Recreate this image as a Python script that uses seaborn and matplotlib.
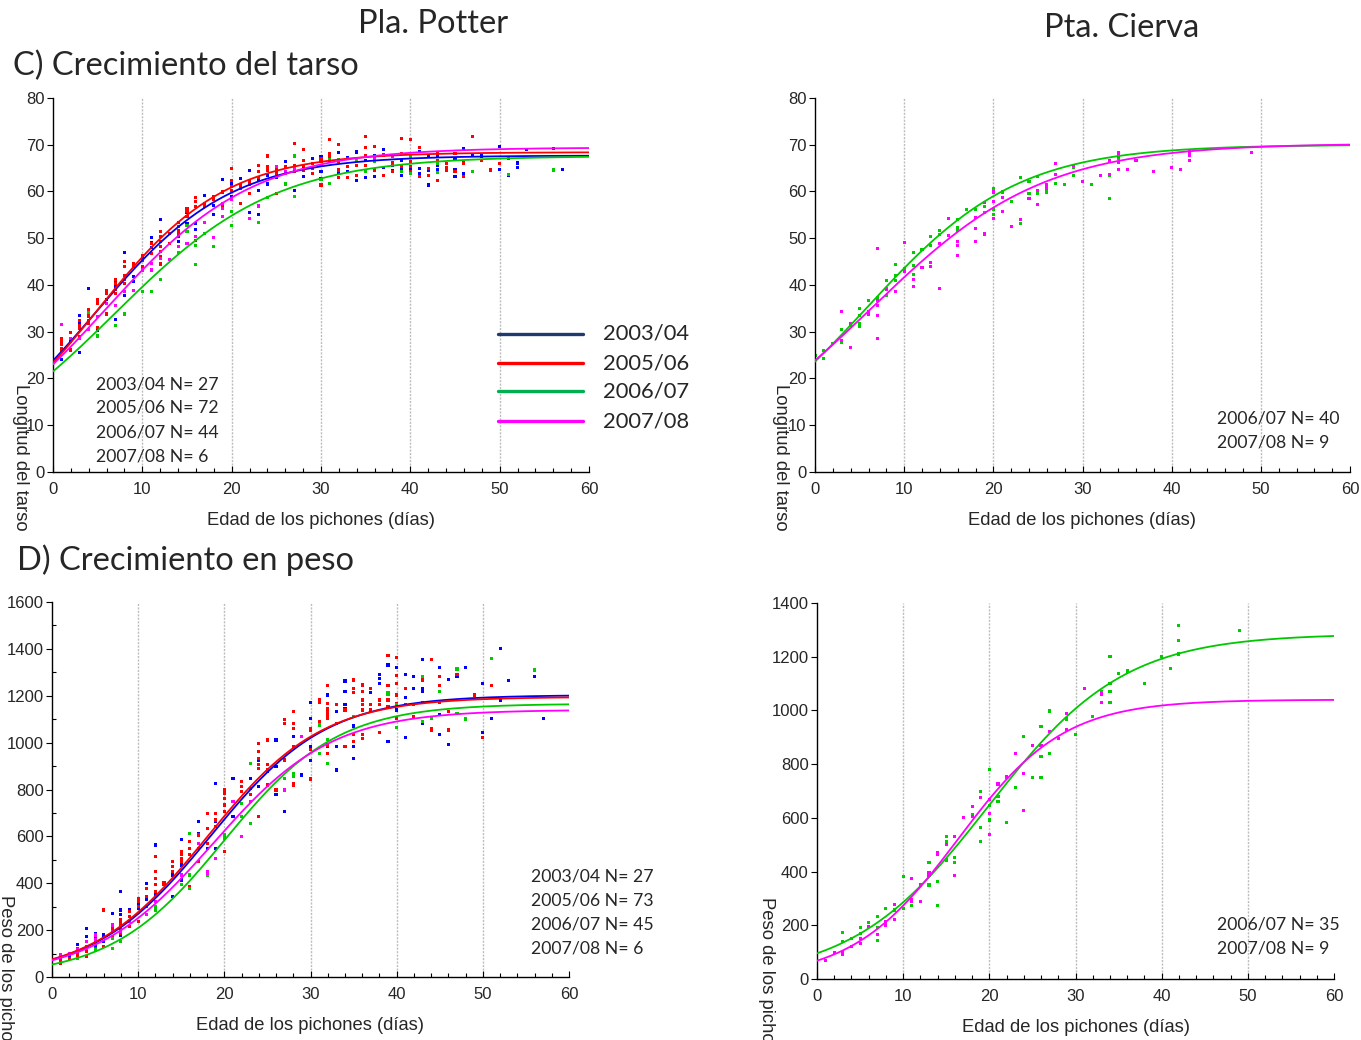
import numpy as np
import pandas as pd
import matplotlib
matplotlib.use("Agg")
import matplotlib.pyplot as plt
from matplotlib.lines import Line2D
from matplotlib.ticker import MultipleLocator
import seaborn as sns

sns.set_theme(style="white")
plt.rcParams['font.family'] = ['Liberation Sans', 'DejaVu Sans']

W, H = 1361, 1040
TEXT_FONT = ['Lato', 'DejaVu Sans']

SEASONS = ["2003/04", "2005/06", "2006/07", "2007/08"]
DOT_COLORS = {"2003/04": "#0000ff", "2005/06": "#ff0000",
              "2006/07": "#00cc00", "2007/08": "#ff00ff"}
LINE_COLORS = {"2003/04": "#0000ee", "2005/06": "#ff0000",
               "2006/07": "#00c800", "2007/08": "#ff00ff"}
LEGEND_COLORS = ["#1f3a6e", "#ff0000", "#00b050", "#ff00ff"]

# ---- Fitted logistic growth parameters (asymptote, rate, inflection day) ----
TARSO_POTTER_A = [67.7, 68.4, 67.6, 69.4]
TARSO_POTTER_K = [0.1316, 0.1379, 0.111, 0.1202]
TARSO_POTTER_TI = [4.65, 4.79, 6.87, 5.84]

TARSO_CIERVA_A = [70.0, 70.3]
TARSO_CIERVA_K = [0.1178, 0.104]
TARSO_CIERVA_TI = [5.74, 6.4]

PESO_POTTER_A = [1203, 1195, 1166, 1140]
PESO_POTTER_K = [0.148, 0.150, 0.152, 0.145]
PESO_POTTER_TI = [18.4, 18.0, 20.0, 18.7]

PESO_CIERVA_A = [1285, 1040]
PESO_CIERVA_K = [0.1269, 0.1627]
PESO_CIERVA_TI = [19.87, 16.35]

# ---- Sample sizes ----
N_TARSO_POTTER = [27, 72, 44, 6]
N_TARSO_CIERVA = [40, 9]
N_PESO_POTTER = [27, 73, 45, 6]
N_PESO_CIERVA = [35, 9]

# ---- Measurements: day -> values ----
TP_2003 = {1: [24.1], 2: [27.9], 3: [33.4, 31.8, 25.6], 4: [39.3], 5: [36.3, 30.2], 6: [36.9],
           7: [40.5, 39.6, 32.6], 8: [47.0, 37.8], 9: [41.8, 40.7], 10: [45.7, 43.9],
           11: [50.2, 49.0, 48.0], 12: [54.0], 13: [48.9], 14: [51.4, 50.3, 49.3], 15: [55.5, 53.2],
           16: [53.2, 51.9], 17: [59.2], 18: [57.1, 55.0], 19: [62.6], 20: [61.7, 58.9], 21: [62.8],
           22: [64.4, 55.5], 23: [62.3, 60.3, 55.0], 24: [63.5, 61.6], 25: [63.0], 26: [66.5],
           27: [60.3], 28: [64.9, 63.3], 29: [67.1], 30: [67.4, 64.2, 62.8], 31: [66.4],
           32: [68.4, 63.9], 33: [67.2, 64.2], 34: [68.6, 68.3, 62.3], 35: [66.6, 63.0],
           36: [67.6, 63.3], 37: [68.9, 65.1], 38: [65.6, 64.4], 39: [66.7, 64.8, 63.5], 40: [64.6],
           41: [68.6, 64.9, 63.9], 42: [67.6, 64.4, 61.4], 43: [67.4, 65.6, 64.6],
           45: [66.9, 64.7, 63.3], 46: [69.2, 63.9], 47: [67.8], 48: [67.6], 50: [69.6, 64.8],
           51: [63.5], 52: [66.1, 65.1], 53: [68.9], 56: [69.2], 57: [64.8]}
TP_2005 = {1: [28.6, 27.9, 27.2, 26.4, 25.7], 2: [29.8, 26.1], 3: [32.5, 31.4, 30.7, 28.9],
           4: [34.8, 33.9, 33.2, 32.5, 31.8], 5: [36.8, 36.1, 30.9], 6: [38.9, 38.1, 33.8],
           7: [41.2, 40.3, 39.1, 38.2], 8: [45.0, 43.9, 42.1, 41.1, 40.3], 9: [44.6, 43.9],
           10: [46.4, 45.3, 43.9], 11: [48.8, 46.8], 12: [51.4, 50.3, 49.3, 48.2, 47.1, 46.0, 44.5],
           13: [51.0, 48.9], 14: [53.3, 52.5, 51.7, 51.0], 15: [56.4, 55.7, 54.6],
           16: [58.7, 57.8, 56.7, 49.6], 17: [57.4, 56.7, 51.0], 18: [58.9, 58.2], 19: [59.9, 57.1],
           20: [64.9, 62.4, 61.0, 60.3], 21: [61.4, 60.7, 57.4], 22: [62.4, 61.6, 59.6],
           23: [65.6, 64.2, 63.0], 24: [67.6, 65.3, 64.6], 25: [64.6, 63.9, 59.6], 26: [65.3, 63.9],
           27: [70.3, 65.6, 64.2], 28: [68.9, 66.7, 65.6, 64.6], 29: [66.0, 64.9, 63.9],
           30: [67.1, 66.4, 65.6, 61.4], 31: [71.1, 68.1, 67.4], 32: [70.1, 66.4, 64.6, 63.0],
           33: [67.1, 65.4, 63.0], 34: [65.6, 63.5], 35: [71.7, 69.4, 67.6, 65.6, 64.2],
           36: [69.7, 67.4, 64.6], 37: [67.8, 63.4], 38: [66.1, 64.2], 39: [71.3, 68.1, 65.3],
           40: [71.1, 66.4, 65.3, 64.2], 41: [69.4, 63.2], 42: [64.9, 63.5], 43: [68.1, 66.7, 62.3],
           44: [65.9, 65.1, 64.4], 45: [68.1, 64.2], 46: [66.1, 63.3], 47: [71.7], 48: [66.7],
           49: [64.6], 50: [65.9], 51: [67.1]}
TP_2006 = {4: [34.1], 5: [29.1], 7: [31.4], 8: [33.8], 10: [38.6], 11: [38.6], 12: [41.2],
           14: [47.0], 15: [52.8, 51.4], 16: [48.5, 44.3], 17: [51.0], 18: [48.2], 20: [55.7, 52.8],
           23: [53.4], 24: [58.7], 26: [61.6], 27: [67.6, 59.0], 30: [62.6], 31: [66.9, 61.7],
           32: [66.9], 34: [66.7], 35: [64.2], 36: [66.4], 39: [64.2], 40: [67.4, 63.9],
           43: [66.0, 64.0], 47: [64.2], 51: [63.7], 56: [64.6]}
TP_2007 = {1: [31.6], 2: [28.6], 3: [28.6], 4: [30.4], 5: [33.2], 6: [36.1], 7: [35.7], 8: [38.6],
           9: [38.9], 10: [43.2], 11: [44.6, 43.2], 12: [45.7], 13: [45.5], 14: [48.2], 15: [48.9],
           16: [50.3], 17: [53.3], 18: [50.2], 19: [57.4, 56.4, 54.6], 20: [58.2], 22: [54.2],
           23: [56.9], 25: [65.3], 26: [64.2], 27: [64.9], 36: [67.1], 38: [67.4]}

TC_2006 = {0: [25.0], 1: [25.9, 24.3], 2: [27.5], 3: [30.4, 27.7], 4: [31.4],
           5: [34.9, 33.4, 31.8, 31.2], 6: [36.6], 7: [37.3], 8: [40.9, 39.3, 37.8],
           9: [44.3, 42.0, 40.9], 10: [43.5], 11: [47.0, 44.1, 42.3], 12: [47.5], 13: [50.3, 48.4],
           14: [51.7, 50.8], 15: [50.5], 16: [54.0, 52.3, 51.6], 17: [56.2], 18: [56.2],
           19: [56.7, 55.5], 20: [60.7, 56.2, 55.0], 21: [59.9], 22: [57.8], 23: [62.9, 53.2],
           24: [62.1, 59.6], 25: [63.2, 59.6], 26: [59.9], 27: [61.7], 28: [61.5], 29: [65.1, 63.5],
           31: [61.5], 33: [63.5, 58.5], 34: [67.1]}
TC_2007 = {3: [34.3, 28.2], 4: [31.8, 26.6], 6: [34.3, 33.7], 7: [47.8, 36.6, 35.7, 33.4, 28.5],
           8: [39.1], 9: [38.7], 10: [49.0, 42.8], 11: [41.2, 39.6], 12: [43.8], 13: [44.8, 43.9],
           14: [48.9, 39.3], 15: [54.2, 50.5], 16: [49.3, 48.5, 46.3], 18: [54.5, 52.1, 49.3],
           19: [57.6, 50.9], 20: [59.9, 57.8, 54.2], 21: [58.7, 55.7], 22: [52.6], 23: [54.0],
           24: [58.5], 25: [60.2, 57.3], 26: [61.4, 60.7], 27: [66.0, 63.7], 29: [65.6], 30: [62.1],
           32: [63.5], 33: [66.7, 63.7], 34: [68.3, 67.6, 66.2, 64.8], 35: [64.8], 36: [66.7],
           38: [64.2], 40: [65.1], 41: [64.8], 42: [68.6, 67.8, 66.7], 49: [68.4]}

PP_2003 = {1: [73], 2: [94], 3: [137], 4: [208, 172], 5: [186, 165, 129], 6: [179, 151],
           7: [272, 208], 8: [364, 286, 265, 179], 9: [286, 257], 10: [314, 293],
           11: [400, 378, 329], 12: [563, 449, 350], 13: [393], 14: [492, 435, 343],
           15: [585, 478, 414], 16: [521], 17: [663, 613], 18: [570, 549], 19: [826, 663, 549],
           20: [592], 21: [848, 684], 22: [684], 23: [848], 24: [961, 926, 812], 25: [1011, 876],
           26: [1011, 897, 777], 27: [705], 28: [1025], 29: [862], 30: [1172, 1104, 983, 922],
           32: [1203, 983], 33: [1132, 983, 883], 34: [1263, 1220, 1161, 1144],
           35: [1071, 983, 933], 37: [1215, 1139], 38: [1291, 1274, 1253], 39: [1331, 1153, 1004],
           40: [1320, 1139], 41: [1291, 1192, 1021], 42: [1281, 1232], 43: [1353, 1232, 1217, 1083],
           45: [1320, 1121, 1033], 46: [1270, 993], 47: [1281], 48: [1320], 50: [1253, 1044],
           51: [1104], 52: [1402, 1182], 53: [1264], 56: [1281], 57: [1104]}
PP_2005 = {1: [80, 65, 58], 2: [101, 80], 3: [122, 101, 87], 4: [151, 129, 108, 87], 5: [144, 122],
           6: [286, 129], 7: [222, 208, 193, 172], 8: [243, 229, 215, 201, 186], 9: [279, 257, 215],
           10: [336, 321, 300, 236], 11: [378, 343, 300], 12: [513, 449, 421, 393, 364],
           13: [404, 393], 14: [492, 471, 449], 15: [535, 521, 506, 492],
           16: [613, 577, 549, 521, 385], 17: [606, 549, 492], 18: [698, 634, 570],
           19: [698, 670, 642], 20: [798, 784, 762, 734, 705, 535], 22: [833, 812, 791],
           23: [805, 777], 24: [997, 961, 933, 905, 890, 684], 25: [1011, 905, 883, 819], 26: [798],
           27: [1097, 1083, 926], 28: [1132, 1083, 1061, 983, 826, 819],
           30: [1061, 1054, 969, 845], 31: [1182, 1172, 1092, 1083],
           32: [1243, 1168, 1144, 1132, 1118, 1104, 990, 954], 33: [1161, 1083], 34: [1139, 983],
           35: [1267, 1232, 1215, 1033, 1004], 36: [1246, 1217, 1182, 1161, 1139, 1033, 1018],
           37: [1232, 1161, 1139], 38: [1182, 1161, 1044], 39: [1370, 1243, 1182, 1153],
           40: [1364, 1286, 1253, 1203, 1168, 1104], 41: [1232, 1161], 42: [1161, 1111],
           43: [1267, 1170], 44: [1353, 1061, 1054], 45: [1281, 1243, 1172], 46: [1132, 1054],
           47: [1291], 48: [1104], 49: [1203], 50: [1021], 51: [1243]}
PP_2006 = {3: [80], 5: [115], 7: [165, 122], 8: [151], 12: [300, 286], 15: [393],
           16: [613, 435, 378], 18: [435], 20: [606, 592], 22: [741, 684], 23: [912, 656],
           27: [848], 28: [869, 855], 31: [1075, 954], 32: [1015, 912], 35: [1111],
           39: [1215, 1206], 40: [1161, 1065], 43: [1281, 1092], 44: [1104], 45: [1220],
           47: [1314, 1125], 48: [1101], 51: [1360], 56: [1310]}
PP_2007 = {1: [94], 2: [101], 3: [115], 4: [151, 122], 5: [179, 158], 7: [222, 193], 8: [193],
           9: [236], 11: [265], 12: [321], 15: [435], 17: [570], 18: [449, 442], 19: [506],
           21: [748], 22: [599], 23: [748], 27: [798], 29: [1025]}

PC_2006 = {3: [174, 141], 4: [151], 5: [191, 170], 6: [210], 7: [232, 191, 143], 8: [263],
           9: [257], 10: [381, 263], 11: [292, 273], 13: [433, 350], 14: [362, 273],
           15: [530, 511, 443], 16: [453, 433], 18: [611], 19: [698, 563, 511], 20: [781, 645, 592],
           21: [681, 660], 22: [750, 582], 23: [714], 24: [902], 25: [751], 26: [940, 828, 751],
           27: [998, 838], 29: [968], 30: [911], 32: [978], 33: [1070],
           34: [1200, 1101, 1070, 1031], 35: [1137], 36: [1147], 38: [1100], 40: [1200],
           41: [1157], 42: [1316, 1259, 1210], 49: [1297]}
PC_2007 = {1: [68], 2: [98], 3: [99, 93], 4: [120], 5: [151, 133], 6: [195], 7: [166],
           8: [213, 201], 9: [278, 223], 11: [375, 294, 288], 12: [350, 288], 13: [396, 385],
           14: [472, 465], 15: [501], 16: [530, 384], 17: [602], 18: [642, 604], 19: [675],
           20: [670, 617, 539], 21: [726], 22: [753], 23: [838], 24: [766, 626], 25: [868],
           26: [871], 27: [921], 28: [896], 29: [987, 930], 31: [1080], 33: [1061, 1031]}


def fx(px):
    return px / W


def fy(py):
    return 1 - py / H


def points_frame(tables, seasons):
    rows = []
    for season, table in zip(seasons, tables):
        for day, vals in table.items():
            for v in vals:
                rows.append((season, day, v))
    return pd.DataFrame(rows, columns=["season", "day", "value"])


def curve_frame(asym, rate, infl, seasons):
    days = np.linspace(0, 60, 301)
    parts = []
    for season, a, k, ti in zip(seasons, asym, rate, infl):
        parts.append(pd.DataFrame({"season": season, "day": days,
                                   "value": a / (1 + np.exp(-k * (days - ti)))}))
    return pd.concat(parts, ignore_index=True)


def style_axes(ax, ymax, ystep, yminor=None):
    ax.set_xlim(0, 60)
    ax.set_ylim(0, ymax)
    ax.xaxis.set_major_locator(MultipleLocator(10))
    ax.xaxis.set_minor_locator(MultipleLocator(2))
    ax.yaxis.set_major_locator(MultipleLocator(ystep))
    if yminor:
        ax.yaxis.set_minor_locator(MultipleLocator(yminor))
        ax.tick_params(axis="y", which="minor", direction="in", length=3, width=0.8,
                       color="black", left=True)
    ax.tick_params(axis="x", which="major", direction="in", length=4, width=0.8,
                   color="black", labelsize=12, pad=7, bottom=True)
    ax.tick_params(axis="x", which="minor", direction="in", length=3, width=0.8,
                   color="black", bottom=True)
    ax.tick_params(axis="y", which="major", direction="out", length=4, width=0.8,
                   color="black", labelsize=12, pad=2, left=True)
    for side in ("top", "right"):
        ax.spines[side].set_visible(False)
    for side in ("left", "bottom"):
        ax.spines[side].set_color("black")
        ax.spines[side].set_linewidth(1.0)
    for d in range(10, 60, 10):
        ax.axvline(d, color="#bdbdbd", lw=1.0, ls=(0, (1.5, 1)), zorder=0)
    ax.set_xlabel("Edad de los pichones (días)", fontsize=13.2, labelpad=11)
    ax.set_ylabel("")
    ax.set_facecolor("white")


def draw_panel(ax, tables, seasons, asym, rate, infl):
    pts = points_frame(tables, seasons)
    sns.scatterplot(data=pts, x="day", y="value", hue="season",
                    palette={s: DOT_COLORS[s] for s in seasons}, marker="s", s=5,
                    linewidth=0, legend=False, ax=ax, zorder=2)
    cur = curve_frame(asym, rate, infl, seasons)
    sns.lineplot(data=cur, x="day", y="value", hue="season",
                 palette={s: LINE_COLORS[s] for s in seasons}, estimator=None,
                 lw=1.3, legend=False, ax=ax, zorder=3)


fig = plt.figure(figsize=(W / 100, H / 100), dpi=100)
fig.patch.set_facecolor("white")

ax_tp = fig.add_axes([fx(53), fy(472), (589 - 53) / W, (472 - 98) / H])
ax_tc = fig.add_axes([fx(815), fy(472), (1350 - 815) / W, (472 - 98) / H])
ax_pp = fig.add_axes([fx(52), fy(977), (569 - 52) / W, (977 - 602) / H])
ax_pc = fig.add_axes([fx(817), fy(979), (1334 - 817) / W, (979 - 603) / H])

draw_panel(ax_tp, [TP_2003, TP_2005, TP_2006, TP_2007], SEASONS,
           TARSO_POTTER_A, TARSO_POTTER_K, TARSO_POTTER_TI)
draw_panel(ax_tc, [TC_2006, TC_2007], SEASONS[2:],
           TARSO_CIERVA_A, TARSO_CIERVA_K, TARSO_CIERVA_TI)
draw_panel(ax_pp, [PP_2003, PP_2005, PP_2006, PP_2007], SEASONS,
           PESO_POTTER_A, PESO_POTTER_K, PESO_POTTER_TI)
draw_panel(ax_pc, [PC_2006, PC_2007], SEASONS[2:],
           PESO_CIERVA_A, PESO_CIERVA_K, PESO_CIERVA_TI)

style_axes(ax_tp, 80, 10)
style_axes(ax_tc, 80, 10)
style_axes(ax_pp, 1600, 200, yminor=100)
style_axes(ax_pc, 1400, 200)

# Column and section headings
fig.text(fx(433), fy(24), "Pla. Potter", fontsize=23.5, family=TEXT_FONT, ha="center", va="center")
fig.text(fx(1122), fy(28), "Pta. Cierva", fontsize=23.5, family=TEXT_FONT, ha="center", va="center")
fig.text(fx(13), fy(66), "C) Crecimiento del tarso", fontsize=23.5, family=TEXT_FONT,
         ha="left", va="center")
fig.text(fx(17), fy(560), "D) Crecimiento en peso", fontsize=23.5, family=TEXT_FONT,
         ha="left", va="center")

# Rotated y-axis titles
fig.text(fx(20), fy(384), "Longitud del tarso", rotation=270, fontsize=13.3, ha="center", va="top")
fig.text(fx(781), fy(384), "Longitud del tarso", rotation=270, fontsize=13.3, ha="center", va="top")
fig.text(fx(5), fy(895), "Peso de los pichones (g)", rotation=270, fontsize=13.3,
         ha="center", va="top")
fig.text(fx(766), fy(897), "Peso de los pichones (g)", rotation=270, fontsize=13.3,
         ha="center", va="top")

# Sample sizes
NOTE_SIZE = 12.7
for i, (season, n) in enumerate(zip(SEASONS, N_TARSO_POTTER)):
    fig.text(fx(96), fy(384 + 24 * i), f"{season} N= {n}", fontsize=NOTE_SIZE, family=TEXT_FONT,
             ha="left", va="center")
for i, (season, n) in enumerate(zip(SEASONS[2:], N_TARSO_CIERVA)):
    fig.text(fx(1217), fy(418 + 24 * i), f"{season} N= {n}", fontsize=NOTE_SIZE, family=TEXT_FONT,
             ha="left", va="center")
for i, (season, n) in enumerate(zip(SEASONS, N_PESO_POTTER)):
    fig.text(fx(531), fy(876 + 24 * i), f"{season} N= {n}", fontsize=NOTE_SIZE, family=TEXT_FONT,
             ha="left", va="center")
for i, (season, n) in enumerate(zip(SEASONS[2:], N_PESO_CIERVA)):
    fig.text(fx(1217), fy(925 + 24 * i), f"{season} N= {n}", fontsize=NOTE_SIZE, family=TEXT_FONT,
             ha="left", va="center")

# Season key
for py, season, color in zip([334, 363, 391, 421], SEASONS, LEGEND_COLORS):
    fig.add_artist(Line2D([fx(498), fx(583)], [fy(py), fy(py)], color=color, lw=2.4,
                          transform=fig.transFigure))
    fig.text(fx(603), fy(py), season, fontsize=15.8, family=TEXT_FONT, ha="left", va="center")

fig.savefig("out.png", dpi=100, facecolor="white")
